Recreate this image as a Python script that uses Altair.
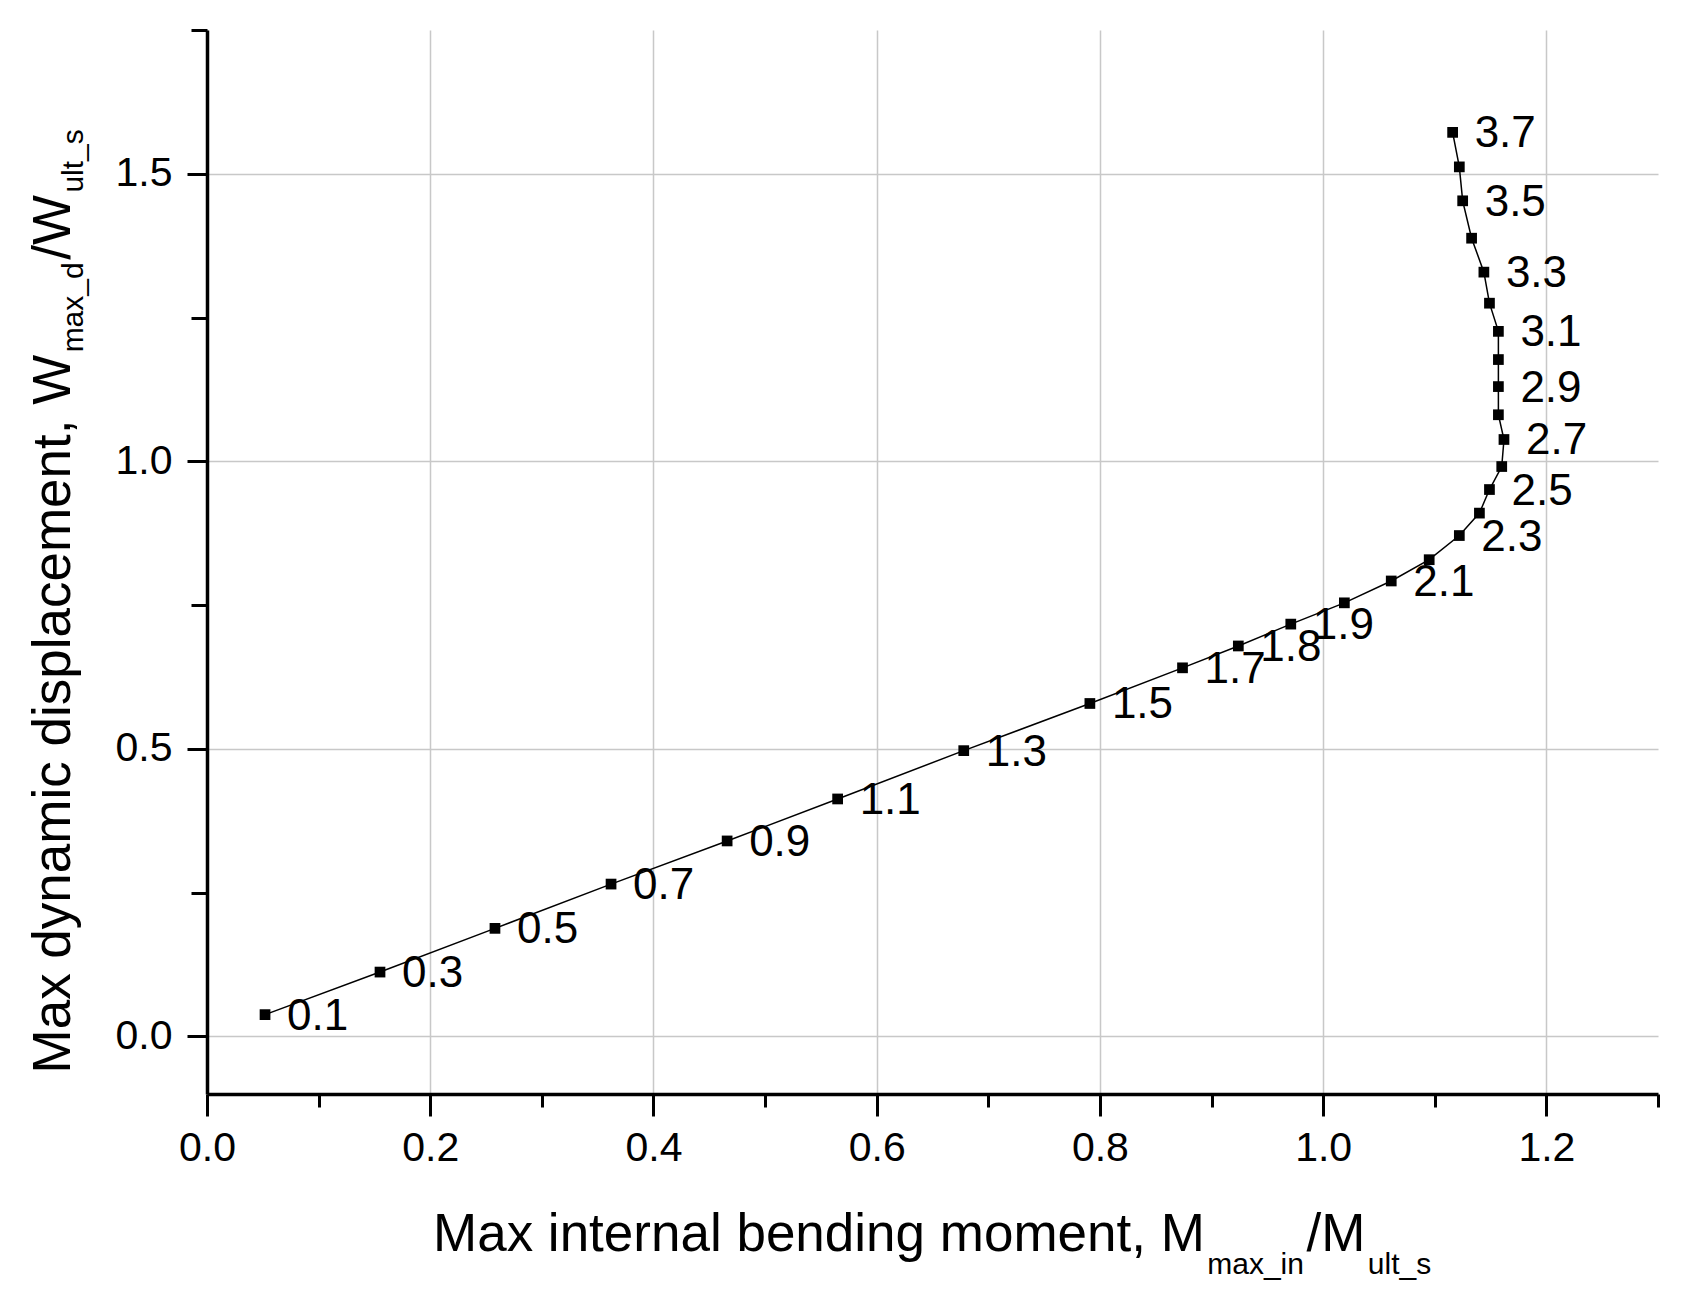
import altair as alt
import pandas as pd

# ---- data ----
load = [0.1, 0.3, 0.5, 0.7, 0.9, 1.1, 1.3, 1.5, 1.7, 1.8, 1.9, 2.0, 2.1, 2.2, 2.3,
        2.4, 2.5, 2.6, 2.7, 2.8, 2.9, 3.0, 3.1, 3.2, 3.3, 3.4, 3.5, 3.6, 3.7]
moment = [0.052, 0.155, 0.258, 0.362, 0.466, 0.565, 0.678, 0.791, 0.874, 0.924,
          0.971, 1.019, 1.061, 1.095, 1.122, 1.140, 1.149, 1.160, 1.162, 1.157,
          1.157, 1.157, 1.157, 1.149, 1.144, 1.133, 1.125, 1.122, 1.116]
displacement = [0.038, 0.112, 0.188, 0.265, 0.340, 0.413, 0.497, 0.579, 0.641, 0.679,
                 0.717, 0.754, 0.792, 0.829, 0.871, 0.910, 0.951, 0.991, 1.038, 1.081,
                 1.130, 1.177, 1.226, 1.275, 1.329, 1.388, 1.453, 1.512, 1.572]
labelled = [0.1, 0.3, 0.5, 0.7, 0.9, 1.1, 1.3, 1.5, 1.7, 1.8, 1.9, 2.1, 2.3, 2.5,
            2.7, 2.9, 3.1, 3.3, 3.5, 3.7]

x_ticks = [0.0, 0.1, 0.2, 0.3, 0.4, 0.5, 0.6, 0.7, 0.8, 0.9, 1.0, 1.1, 1.2, 1.3]
y_ticks = [0.0, 0.25, 0.5, 0.75, 1.0, 1.25, 1.5, 1.75]
x_domain = [0.0, 1.3]
y_domain = [-0.1, 1.75]

x_title = ["Max internal bending moment, M", "max_in", "/M", "ult_s"]
y_title = ["Max dynamic displacement, W", "max_d", "/W", "ult_s"]

FONT = "Liberation Sans"
W, H = 1451, 1064
MAIN_FS, SUB_FS = 53, 30

df = pd.DataFrame({
    "load": load,
    "moment": moment,
    "disp": displacement,
    "label": [f"{v:.1f}" if v in labelled else "" for v in load],
})

# Arial / Liberation Sans advance widths (per 1000 em)
CW = {' ': 278, ',': 278, '/': 278, '_': 556, 'M': 833, 'W': 944, 'a': 556, 'b': 556,
      'c': 500, 'd': 556, 'e': 556, 'g': 556, 'i': 222, 'l': 222, 'm': 833, 'n': 556,
      'o': 556, 'p': 556, 'r': 333, 's': 500, 't': 278, 'u': 556, 'x': 500, 'y': 500}


def tw(s, fs):
    return sum(CW.get(c, 556) for c in s) * fs / 1000.0


def piece(text, x, y, fs, angle=0):
    return alt.Chart(alt.InlineData(values=[{"k": 0}])).mark_text(
        text=text, font=FONT, fontSize=fs, align="left", baseline="alphabetic",
        angle=angle, color="black"
    ).encode(x=alt.value(x), y=alt.value(y))


# x-axis title pieces (main text + subscripts)
xt_layers = []
px, base_y, sub_y = 226.0, 1220.5, 1243.5
for i, t in enumerate(x_title):
    sub = i % 2 == 1
    fs = SUB_FS if sub else MAIN_FS
    xt_layers.append(piece(t, px, sub_y if sub else base_y, fs))
    px += tw(t, fs) + 2.5

# y-axis title pieces (rotated, reading upward)
yt_layers = []
py, base_x, sub_x = 1043.5, -137.0, -124.0
for i, t in enumerate(y_title):
    sub = i % 2 == 1
    fs = SUB_FS if sub else MAIN_FS
    yt_layers.append(piece(t, sub_x if sub else base_x, py, fs, angle=270))
    py -= tw(t, fs) + 2.5

minor_x = "round(datum.value*10) % 2 === 1"
minor_y = "round(datum.value*4) % 2 === 1"

x_enc = alt.X(
    "moment:Q",
    scale=alt.Scale(domain=x_domain, nice=False, zero=False),
    axis=alt.Axis(
        title=None, values=x_ticks, grid=True,
        labelExpr="round(datum.value*10) % 2 === 0 ? format(datum.value, '.1f') : ''",
        tickSize={"condition": {"test": minor_x, "value": 13}, "value": 22},
        gridOpacity={"condition": {"test": minor_x, "value": 0}, "value": 1},
        labelPadding=12, labelOverlap=False, labelFlush=False,
    ),
)
y_enc = alt.Y(
    "disp:Q",
    scale=alt.Scale(domain=y_domain, nice=False, zero=False),
    axis=alt.Axis(
        title=None, values=y_ticks, grid=True,
        labelExpr="round(datum.value*4) % 2 === 0 ? format(datum.value, '.1f') : ''",
        tickSize={"condition": {"test": minor_y, "value": 16}, "value": 20},
        gridOpacity={"condition": {"test": minor_y, "value": 0}, "value": 1},
        labelPadding=15, labelOverlap=False, labelFlush=False,
    ),
)

base = alt.Chart(df).encode(x=x_enc, y=y_enc)

line = base.mark_line(color="black", strokeWidth=1.5).encode(order="load:Q")
points = base.mark_point(shape="square", filled=True, color="black", opacity=1, size=115)
labels = base.mark_text(
    align="left", baseline="middle", dx=22, dy=2, font=FONT, fontSize=44, color="black"
).encode(text="label:N")

chart = alt.layer(line, points, labels, *xt_layers, *yt_layers).properties(
    width=W, height=H,
    autosize=alt.AutoSizeParams(type="none"),
    padding={"left": 199, "top": 22, "right": 18, "bottom": 190},
).configure_view(strokeWidth=0).configure_axis(
    domainColor="black", domainWidth=3.5, tickColor="black", tickWidth=3,
    gridColor="#c8c8c8", gridWidth=1.5,
    labelFont=FONT, labelFontSize=41, labelColor="black",
)

chart.save("out.html", embed_options={"renderer": "svg", "actions": False})
